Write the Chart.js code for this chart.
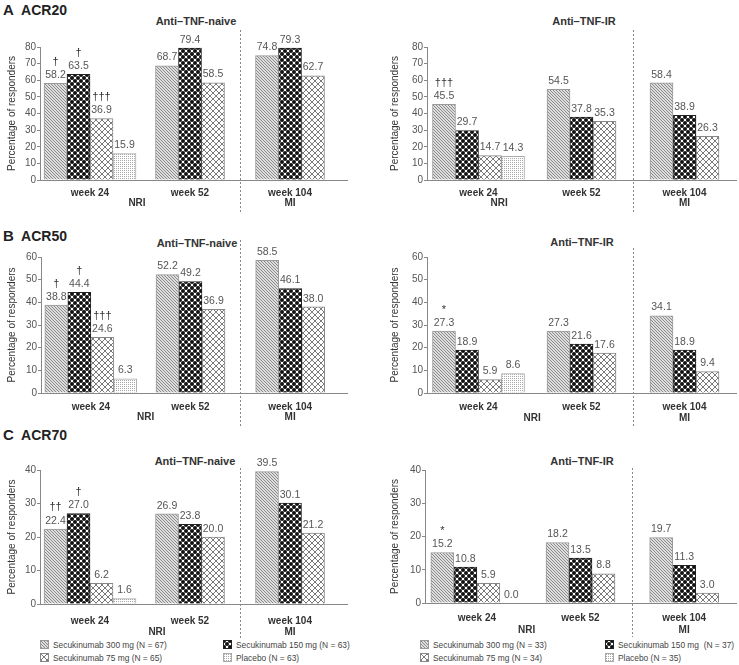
<!DOCTYPE html>
<html>
<head>
<meta charset="utf-8">
<script src="https://cdn.jsdelivr.net/npm/chart.js@4"></script>
<style>
  body { margin: 0; background: #fff; font-family: "Liberation Sans", Arial, sans-serif; }
  #fig { position: relative; width: 739px; height: 665px; overflow: hidden; }
  .panel { position: absolute; }
  .hdr { position: absolute; font-weight: bold; font-size: 14px; line-height: 16px; color: #222; white-space: pre; }
  .ttl { position: absolute; font-weight: bold; font-size: 11px; color: #333; transform: translate(-50%, -50%); white-space: nowrap; }
  .leg { position: absolute; font-size: 8.4px; line-height: 10px; color: #444; white-space: pre; transform: translateY(-50%); }
  .sw { display: inline-block; width: 7px; height: 7px; border: 1px solid #999; vertical-align: -1px; margin-right: 4px; }
</style>
</head>
<body>
<div id="fig">
  <div class="hdr" style="left:3px;top:2px"><span style="font-size:15px">A</span>  ACR20</div>
  <div class="hdr" style="left:3px;top:228px"><span style="font-size:15px">B</span>  ACR50</div>
  <div class="hdr" style="left:3px;top:427px"><span style="font-size:15px">C</span>  ACR70</div>

  <div class="ttl" style="left:196px;top:21px">Anti–TNF-naive</div>
  <div class="ttl" style="left:584px;top:21px">Anti–TNF-IR</div>
  <div class="ttl" style="left:197px;top:243px">Anti–TNF-naive</div>
  <div class="ttl" style="left:582px;top:242px">Anti–TNF-IR</div>
  <div class="ttl" style="left:195px;top:461px">Anti–TNF-naive</div>
  <div class="ttl" style="left:582px;top:461px">Anti–TNF-IR</div>

  <div class="panel" id="pA1"><canvas id="cA1"></canvas></div>
  <div class="panel" id="pA2"><canvas id="cA2"></canvas></div>
  <div class="panel" id="pB1"><canvas id="cB1"></canvas></div>
  <div class="panel" id="pB2"><canvas id="cB2"></canvas></div>
  <div class="panel" id="pC1"><canvas id="cC1"></canvas></div>
  <div class="panel" id="pC2"><canvas id="cC2"></canvas></div>
</div>

<script>
// categories
const weekLabels = ['week 24', 'week 52', 'week 104'];
const yTitle = 'Percentage of responders';

// ACR20 (% responders)
const acr20Naive300 = [58.2, 68.7, 74.8];
const acr20Naive150 = [63.5, 79.4, 79.3];
const acr20Naive75  = [36.9, 58.5, 62.7];
const acr20NaivePbo = [15.9, null, null];
const acr20Ir300 = [45.5, 54.5, 58.4];
const acr20Ir150 = [29.7, 37.8, 38.9];
const acr20Ir75  = [14.7, 35.3, 26.3];
const acr20IrPbo = [14.3, null, null];

// ACR50
const acr50Naive300 = [38.8, 52.2, 58.5];
const acr50Naive150 = [44.4, 49.2, 46.1];
const acr50Naive75  = [24.6, 36.9, 38.0];
const acr50NaivePbo = [6.3, null, null];
const acr50Ir300 = [27.3, 27.3, 34.1];
const acr50Ir150 = [18.9, 21.6, 18.9];
const acr50Ir75  = [5.9, 17.6, 9.4];
const acr50IrPbo = [8.6, null, null];

// ACR70
const acr70Naive300 = [22.4, 26.9, 39.5];
const acr70Naive150 = [27.0, 23.8, 30.1];
const acr70Naive75  = [6.2, 20.0, 21.2];
const acr70NaivePbo = [1.6, null, null];
const acr70Ir300 = [15.2, 18.2, 19.7];
const acr70Ir150 = [10.8, 13.5, 11.3];
const acr70Ir75  = [5.9, 8.8, 3.0];
const acr70IrPbo = [0.0, null, null];

// significance marks over 300 / 150 / 75 mg bars at week 24
const acr20NaiveMarks = ['†', '†', '†††'];
const acr20IrMarks    = ['†††', '', ''];
const acr50NaiveMarks = ['†', '†', '†††'];
const acr50IrMarks    = ['*', '', ''];
const acr70NaiveMarks = ['††', '†', ''];
const acr70IrMarks    = ['*', '', ''];

// y-axis maxima (ticks every 10)
const acr20Max = 80, acr50Max = 60, acr70Max = 40;

const naiveLegend = ['Secukinumab 300 mg (N = 67)', 'Secukinumab 150 mg (N = 63)', 'Secukinumab 75 mg (N = 65)', 'Placebo (N = 63)'];
const irLegend = ['Secukinumab 300 mg (N = 33)', 'Secukinumab 150 mg  (N = 37)', 'Secukinumab 75 mg (N = 34)', 'Placebo (N = 35)'];

Chart.defaults.font.family = '"Liberation Sans", Arial, sans-serif';

// --- fill patterns ---
function tile(w, h, draw) {
  const c = document.createElement('canvas');
  c.width = w; c.height = h;
  draw(c.getContext('2d'));
  return c;
}
const tiles = [
  // 300 mg: fine diagonal hatch
  tile(3, 3, g => {
    g.fillStyle = '#dedede'; g.fillRect(0, 0, 3, 3);
    g.fillStyle = '#8a8a8a';
    for (let i = 0; i < 3; i++) g.fillRect(i, i, 1, 1);
  }),
  // 150 mg: black dots, white gaps
  tile(6, 6, g => {
    g.fillStyle = '#fff'; g.fillRect(0, 0, 6, 6);
    g.fillStyle = '#111';
    [[0, 0], [6, 0], [0, 6], [6, 6], [3, 3]].forEach(p => {
      g.beginPath(); g.arc(p[0], p[1], 2.0, 0, Math.PI * 2); g.fill();
    });
  }),
  // 75 mg: diagonal cross-hatch
  tile(6, 6, g => {
    g.fillStyle = '#fff'; g.fillRect(0, 0, 6, 6);
    g.fillStyle = '#7a7a7a';
    for (let i = 0; i < 6; i++) { g.fillRect(i, i, 1, 1); g.fillRect(i, 5 - i, 1, 1); }
  }),
  // placebo: fine dots
  tile(2, 2, g => {
    g.fillStyle = '#fff'; g.fillRect(0, 0, 2, 2);
    g.fillStyle = '#a8a8a8'; g.fillRect(0, 0, 1, 1);
  })
];
const pctx = document.createElement('canvas').getContext('2d');
const fills = tiles.map(t => pctx.createPattern(t, 'repeat'));
const borders = ['#999', '#222', '#888', '#aaa'];

// value labels, marks, divider, NRI / MI
const decor = {
  id: 'decor',
  afterDatasetsDraw(chart, args, o) {
    const ctx = chart.ctx, xs = chart.scales.x, a = chart.chartArea;
    ctx.save();
    ctx.textAlign = 'center';
    ctx.textBaseline = 'bottom';
    chart.data.datasets.forEach((ds, di) => {
      chart.getDatasetMeta(di).data.forEach((bar, i) => {
        const v = ds.data[i];
        if (v === null || v === undefined) return;
        ctx.font = '10.5px "Liberation Sans", Arial, sans-serif';
        ctx.fillStyle = '#555';
        ctx.fillText(v.toFixed(1), bar.x, bar.y - 3);
        const m = i === 0 ? o.marks[di] : '';
        if (m) {
          ctx.font = '11px "Liberation Sans", Arial, sans-serif';
          ctx.fillStyle = '#333';
          ctx.fillText(m, bar.x, bar.y - 16);
        }
      });
    });
    // x axis line runs a bit past the last category
    if (o.extend) {
      ctx.strokeStyle = '#888'; ctx.lineWidth = 1;
      ctx.beginPath();
      ctx.moveTo(a.right, Math.round(a.bottom) + 0.5);
      ctx.lineTo(a.right + o.extend, Math.round(a.bottom) + 0.5);
      ctx.stroke();
    }
    // dotted divider between NRI and MI parts
    const xd = Math.round(xs.getPixelForValue(1.5)) + 0.5;
    ctx.strokeStyle = '#888'; ctx.lineWidth = 1; ctx.setLineDash([2, 2]);
    ctx.beginPath();
    ctx.moveTo(xd, a.top - o.dashUp);
    ctx.lineTo(xd, a.bottom + 34);
    ctx.stroke();
    ctx.setLineDash([]);
    ctx.font = 'bold 10px "Liberation Sans", Arial, sans-serif';
    ctx.fillStyle = '#333';
    ctx.textBaseline = 'middle';
    ctx.fillText('NRI', xs.getPixelForValue(o.nri), a.bottom + o.subGap);
    ctx.fillText('MI', xs.getPixelForValue(2), a.bottom + o.subGap);
    ctx.restore();
  }
};

function makePanel(key, series, marks, yMax, lay) {
  const box = document.getElementById('p' + key);
  box.style.left = lay.left + 'px';
  box.style.top = (lay.top - 17) + 'px';
  box.style.width = '369px';
  box.style.height = (lay.bottom - lay.top + 17 + 34) + 'px';

  new Chart(document.getElementById('c' + key), {
    type: 'bar',
    data: {
      labels: weekLabels,
      datasets: series.map((d, i) => ({
        data: d,
        backgroundColor: fills[i],
        borderColor: borders[i],
        borderWidth: 1
      }))
    },
    options: {
      responsive: true,
      maintainAspectRatio: false,
      animation: false,
      skipNull: true,
      barThickness: 23,
      layout: { padding: { left: lay.padL, right: lay.padR, top: 17, bottom: 0 } },
      plugins: {
        legend: { display: false },
        tooltip: { enabled: false },
        decor: { marks: marks, dashUp: lay.dashUp, extend: lay.extend, nri: lay.nri, subGap: lay.subGap }
      },
      scales: {
        x: {
          grid: { display: false, drawTicks: false },
          border: { color: '#888' },
          ticks: { padding: lay.tickPad, color: '#333', font: { size: 10, weight: 'bold' }, maxRotation: 0, autoSkip: false },
          afterFit: s => { s.height = 34; }
        },
        y: {
          min: 0, max: yMax,
          ticks: { stepSize: 10, padding: 1, color: '#555', font: { size: 10 } },
          grid: { drawOnChartArea: false, tickLength: 3, color: '#888' },
          border: { color: '#888' },
          title: { display: true, text: yTitle, color: '#333', font: { size: 10 }, padding: { top: 6, bottom: 0 } },
          afterFit: s => { s.width = lay.yW; }
        }
      }
    },
    plugins: [decor]
  });
}

makePanel('A1', [acr20Naive300, acr20Naive150, acr20Naive75, acr20NaivePbo], acr20NaiveMarks, acr20Max,
  { left: 0, top: 47, bottom: 180, padL: 0, yW: 40, padR: 29, extend: 8, dashUp: 17, tickPad: 7, subGap: 23, nri: 0.47 });
makePanel('A2', [acr20Ir300, acr20Ir150, acr20Ir75, acr20IrPbo], acr20IrMarks, acr20Max,
  { left: 370, top: 47, bottom: 180, padL: 13, yW: 44, padR: 3, extend: 0, dashUp: 17, tickPad: 7, subGap: 23, nri: 0.2 });
makePanel('B1', [acr50Naive300, acr50Naive150, acr50Naive75, acr50NaivePbo], acr50NaiveMarks, acr50Max,
  { left: 0, top: 257, bottom: 393, padL: 0, yW: 41, padR: 29, extend: 8, dashUp: 17, tickPad: 8, subGap: 24, nri: 0.55 });
makePanel('B2', [acr50Ir300, acr50Ir150, acr50Ir75, acr50IrPbo], acr50IrMarks, acr50Max,
  { left: 370, top: 257, bottom: 393, padL: 13, yW: 44, padR: 3, extend: 0, dashUp: 9, tickPad: 8, subGap: 25, nri: 0.52 });
makePanel('C1', [acr70Naive300, acr70Naive150, acr70Naive75, acr70NaivePbo], acr70NaiveMarks, acr70Max,
  { left: 0, top: 470, bottom: 604, padL: 0, yW: 40, padR: 29, extend: 8, dashUp: 2, tickPad: 11, subGap: 28, nri: 0.67 });
makePanel('C2', [acr70Ir300, acr70Ir150, acr70Ir75, acr70IrPbo], acr70IrMarks, acr70Max,
  { left: 370, top: 470, bottom: 603, padL: 13, yW: 42, padR: 3, extend: 0, dashUp: 2, tickPad: 9, subGap: 27, nri: 0.48 });

// legends (HTML text with pattern swatches)
function addLegend(items, cols, rows) {
  const fig = document.getElementById('fig');
  items.forEach((txt, i) => {
    const d = document.createElement('div');
    d.className = 'leg';
    d.style.left = cols[i % 2] + 'px';
    d.style.top = rows[Math.floor(i / 2)] + 'px';
    const sw = document.createElement('span');
    sw.className = 'sw';
    sw.style.backgroundImage = 'url(' + tiles[i].toDataURL() + ')';
    sw.style.borderColor = borders[i];
    d.appendChild(sw);
    d.appendChild(document.createTextNode(txt));
    fig.appendChild(d);
  });
}
addLegend(naiveLegend, [40, 223], [645, 658]);
addLegend(irLegend, [420, 605], [645, 658]);
</script>
</body>
</html>
